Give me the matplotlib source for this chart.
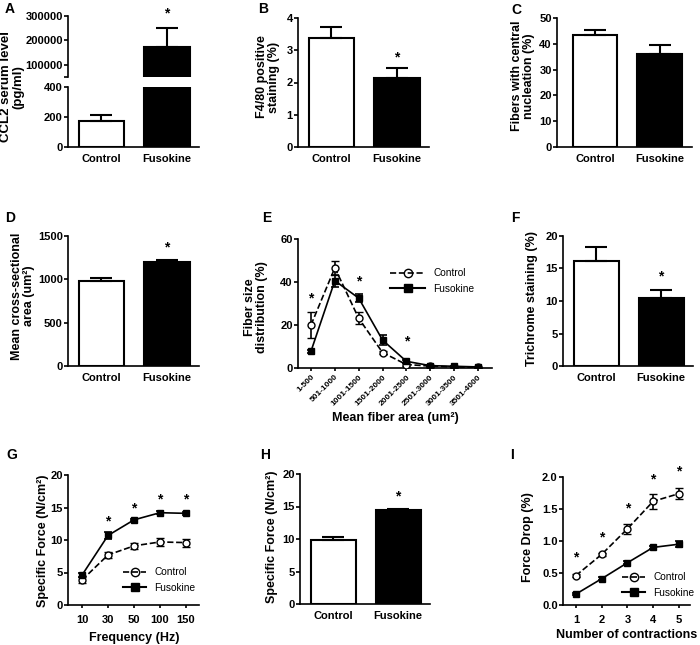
import matplotlib
matplotlib.use("Agg")
import matplotlib.pyplot as plt
from matplotlib.lines import Line2D

plt.rcParams['font.family'] = ['Liberation Sans', 'DejaVu Sans']
plt.rcParams['font.weight'] = 'bold'

# data
groups = ['Control', 'Fusokine']
ccl2 = [175, 172000]
ccl2_err = [38, 77000]
f480 = [3.38, 2.15]
f480_err = [0.33, 0.30]
central = [43.5, 36.0]
central_err = [2.0, 3.4]
csa = [985, 1203]
csa_err = [25, 22]
trichrome = [16.1, 10.5]
trichrome_err = [2.2, 1.2]
force_h = [9.8, 14.4]
force_h_err = [0.5, 0.2]

fiber_bins = ['1-500', '501-1000', '1001-1500', '1501-2000', '2001-2500',
              '2501-3000', '3001-3500', '3501-4000']
fiber_ctrl = [20.0, 46.6, 23.1, 7.2, 1.6, 0.9, 0.5, 0.3]
fiber_ctrl_err = [6.0, 3.2, 2.8, 0.8, 0.6, 0.3, 0.2, 0.1]
fiber_fuso = [7.8, 40.6, 32.5, 13.0, 3.1, 1.1, 0.8, 0.5]
fiber_fuso_err = [0.8, 2.8, 2.0, 2.5, 0.6, 0.3, 0.2, 0.1]

freq = ['10', '30', '50', '100', '150']
force_ctrl = [3.85, 7.7, 9.1, 9.7, 9.6]
force_ctrl_err = [0.5, 0.5, 0.5, 0.6, 0.6]
force_fuso = [4.6, 10.7, 13.1, 14.2, 14.1]
force_fuso_err = [0.3, 0.5, 0.2, 0.2, 0.2]

contractions = ['1', '2', '3', '4', '5']
drop_ctrl = [0.46, 0.79, 1.19, 1.62, 1.74]
drop_ctrl_err = [0.02, 0.03, 0.08, 0.12, 0.09]
drop_fuso = [0.17, 0.41, 0.66, 0.90, 0.95]
drop_fuso_err = [0.02, 0.02, 0.02, 0.02, 0.05]

W, H = 700, 645
fig = plt.figure(figsize=(7, 6.45), dpi=100)

TICK_FS = 8
LAB_FS = 9


def box(x0, y0, x1, y1):
    return fig.add_axes([x0 / W, 1 - y1 / H, (x1 - x0) / W, (y1 - y0) / H])


def style(ax, xticks_len=0):
    for s in ['top', 'right']:
        ax.spines[s].set_visible(False)
    for s in ['left', 'bottom']:
        ax.spines[s].set_linewidth(1.2)
    ax.tick_params(axis='y', direction='out', length=3, width=1.2, labelsize=TICK_FS, pad=0.8)
    ax.tick_params(axis='x', direction='out', length=xticks_len, width=1.2, labelsize=TICK_FS, pad=5)


def ftext(x, y, s, **kw):
    fig.text(x / W, 1 - y / H, s, **kw)


def ylab(x, y, s, fs=LAB_FS):
    ftext(x, y, s, rotation=90, ha='center', va='center', fontsize=fs,
          fontweight='bold', multialignment='center', linespacing=1.0)


def star(ax, x, y):
    ax.text(x, y, '*', ha='center', va='center', fontsize=10, fontweight='bold', clip_on=False)


def bars(ax, vals, errs):
    ax.bar([0, 1], vals, width=0.69, color=['white', 'black'], edgecolor='black', linewidth=1.5, zorder=2)
    ax.errorbar([0, 1], vals, yerr=[[0, 0], errs], fmt='none', ecolor='black',
                elinewidth=1.5, capsize=8, capthick=1.5, zorder=3)


def bar_panel(b, vals, errs, ylim, yticks, xl=(-0.51, 1.49)):
    ax = box(*b)
    bars(ax, vals, errs)
    ax.set_xlim(*xl)
    ax.set_ylim(*ylim)
    ax.set_yticks(yticks)
    ax.set_xticks([0, 1])
    ax.set_xticklabels(groups)
    style(ax)
    return ax


def line_panel(ax, x, c, ce, f, fe):
    ax.errorbar(x, c, yerr=ce, color='black', ls='--', lw=1.2, marker='o', ms=5,
                mfc='white', mec='black', mew=1.0, capsize=3, elinewidth=1.2, capthick=1.2, zorder=3)
    ax.errorbar(x, f, yerr=fe, color='black', ls='-', lw=1.2, marker='s', ms=5,
                mfc='black', mec='black', capsize=3, elinewidth=1.2, capthick=1.2, zorder=4)


def legend(ax, x, y, hl):
    handles = [Line2D([], [], color='black', ls='--', lw=1.2, marker='o', ms=6, mfc='none'),
               Line2D([], [], color='black', ls='-', lw=1.5, marker='s', ms=6)]
    ax.legend(handles, groups, loc='center left', bbox_to_anchor=(x / W, 1 - y / H),
              bbox_transform=fig.transFigure, frameon=False, handlelength=hl,
              handletextpad=0.8, labelspacing=0.55, borderpad=0, borderaxespad=0,
              prop={'weight': 'normal', 'size': 7.3})


# ---- A: broken axis
axu = box(68, 16, 199, 77)
axl = box(68, 87, 199, 147)
for a in (axu, axl):
    a.bar([0, 1], ccl2, width=0.69, color=['white', 'black'], edgecolor='black', linewidth=1.5, zorder=2)
    a.set_xlim(-0.51, 1.49)
    style(a)
axu.errorbar([1], [ccl2[1]], yerr=[[0], [ccl2_err[1]]], fmt='none', ecolor='black',
             elinewidth=1.5, capsize=8, capthick=1.5)
axl.errorbar([0], [ccl2[0]], yerr=[[0], [ccl2_err[0]]], fmt='none', ecolor='black',
             elinewidth=1.5, capsize=8, capthick=1.5)
axu.set_ylim(50000, 300000)
axu.set_yticks([50000, 100000, 200000, 300000])
axu.set_yticklabels(['', '100000', '200000', '300000'])
axu.spines['bottom'].set_visible(False)
axu.set_xticks([])
axl.set_ylim(0, 400)
axl.set_yticks([0, 200, 400])
axl.set_xticks([0, 1])
axl.set_xticklabels(groups)
star(axu, 1, 312000)
ylab(12, 87, 'CCL2 serum level\n(pg/ml)', fs=9.5)
ftext(5, 9, 'A', fontsize=10, fontweight='bold', va='center')

# ---- B
ax = bar_panel((298, 18, 429, 147), f480, f480_err, (0, 4), [0, 1, 2, 3, 4])
star(ax, 1, 2.79)
ylab(268, 77, 'F4/80 positive\nstaining (%)')
ftext(258, 9, 'B', fontsize=10, fontweight='bold', va='center')

# ---- C
ax = bar_panel((557, 18, 692, 147), central, central_err, (0, 50), [0, 10, 20, 30, 40, 50], xl=(-0.59, 1.5))
ylab(523, 76, 'Fibers with central\nnucleation (%)')
ftext(511, 10, 'C', fontsize=10, fontweight='bold', va='center')

# ---- D
ax = bar_panel((68, 236, 199, 366), csa, csa_err, (0, 1500), [0, 500, 1000, 1500])
star(ax, 1, 1362)
ylab(23, 296, 'Mean cross-sectional\narea (um\u00b2)')
ftext(5, 218, 'D', fontsize=10, fontweight='bold', va='center')

# ---- E
ax = box(298, 239, 492, 368)
xs = list(range(len(fiber_bins)))
line_panel(ax, xs, fiber_ctrl, fiber_ctrl_err, fiber_fuso, fiber_fuso_err)
ax.set_xlim(-0.545, 7.59)
ax.set_ylim(0, 60)
ax.set_yticks([0, 20, 40, 60])
ax.set_xticks(xs)
style(ax, xticks_len=2)
ax.set_xticklabels(fiber_bins, rotation=45, ha='right', rotation_mode='anchor', fontsize=6)
ax.tick_params(axis='x', pad=2)
for xi, yi in [(0, 32.5), (2, 40.3), (4, 12.2)]:
    star(ax, xi, yi)
legend(ax, 390, 281, 3.5)
ylab(256, 307, 'Fiber size\ndistribution (%)')
ftext(395, 418, 'Mean fiber area (um\u00b2)', ha='center', va='center', fontsize=LAB_FS, fontweight='bold')
ftext(262, 218, 'E', fontsize=10, fontweight='bold', va='center')

# ---- F
ax = bar_panel((563, 236, 693, 366), trichrome, trichrome_err, (0, 20), [0, 5, 10, 15, 20])
star(ax, 1, 13.7)
ylab(532, 299, 'Trichrome staining (%)')
ftext(511, 218, 'F', fontsize=10, fontweight='bold', va='center')

# ---- G
ax = box(68, 475, 199, 605)
xs = list(range(len(freq)))
line_panel(ax, xs, force_ctrl, force_ctrl_err, force_fuso, force_fuso_err)
ax.set_xlim(-0.54, 4.5)
ax.set_ylim(0, 20)
ax.set_yticks([0, 5, 10, 15, 20])
ax.set_xticks(xs)
ax.set_xticklabels(freq)
style(ax, xticks_len=2)
for xi, yi in zip([1, 2, 3, 4], [12.8, 14.9, 16.3, 16.3]):
    star(ax, xi, yi)
legend(ax, 123, 580, 2.3)
ylab(43, 541, 'Specific Force (N/cm\u00b2)')
ftext(134, 638, 'Frequency (Hz)', ha='center', va='center', fontsize=LAB_FS, fontweight='bold')
ftext(6, 455, 'G', fontsize=10, fontweight='bold', va='center')

# ---- H
ax = bar_panel((300, 474, 430, 604), force_h, force_h_err, (0, 20), [0, 5, 10, 15, 20])
star(ax, 1, 16.5)
ylab(272, 537, 'Specific Force (N/cm\u00b2)')
ftext(260, 455, 'H', fontsize=10, fontweight='bold', va='center')

# ---- I
ax = box(563, 477, 690, 605)
xs = list(range(len(contractions)))
line_panel(ax, xs, drop_ctrl, drop_ctrl_err, drop_fuso, drop_fuso_err)
ax.set_xlim(-0.5, 4.43)
ax.set_ylim(0, 2.0)
ax.set_yticks([0, 0.5, 1.0, 1.5, 2.0])
ax.set_yticklabels(['0.0', '0.5', '1.0', '1.5', '2.0'])
ax.set_xticks(xs)
ax.set_xticklabels(contractions)
style(ax, xticks_len=2)
for xi, yi in zip(xs, [0.75, 1.05, 1.51, 1.96, 2.08]):
    star(ax, xi, yi)
legend(ax, 622, 585, 2.3)
ylab(528, 537, 'Force Drop (%)')
ftext(627, 635, 'Number of contractions', ha='center', va='center', fontsize=LAB_FS, fontweight='bold')
ftext(510, 455, 'I', fontsize=10, fontweight='bold', va='center')

fig.savefig('out.png', dpi=100)
